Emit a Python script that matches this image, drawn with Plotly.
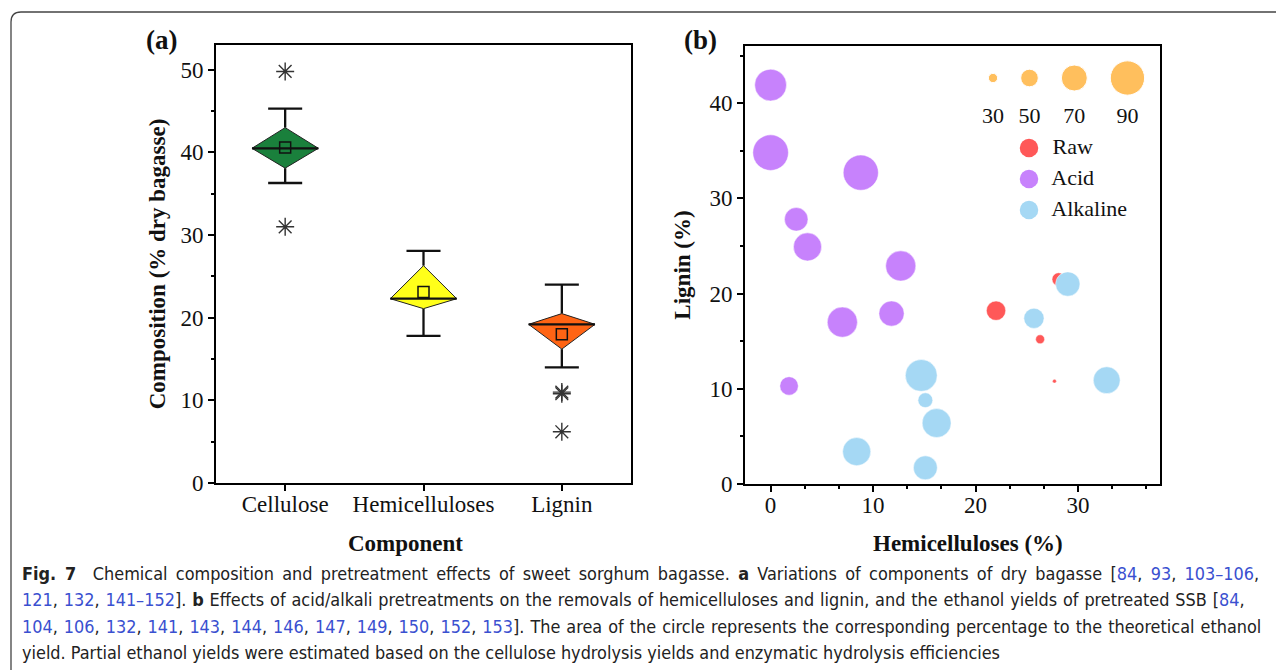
import plotly.graph_objects as go

# ---------------- Data: panel (a) ----------------
categories = ["Cellulose", "Hemicelluloses", "Lignin"]
q1 = [38.1, 21.1, 16.2]
median = [40.5, 22.3, 19.2]
q3 = [43.0, 26.3, 20.5]
whisker_low = [36.3, 17.8, 14.0]
whisker_high = [45.3, 28.1, 24.0]
mean = [40.6, 23.1, 18.0]
outliers = [[49.8, 31.0], [], [10.8, 11.0, 6.2]]
box_colors = ["#1A803C", "#FFFF1A", "#FF6414"]

# ---------------- Data: panel (b) ----------------
raw_hemi = [28.1, 22.0, 26.3, 27.7]
raw_lignin = [21.5, 18.2, 15.2, 10.8]
raw_yield = [39, 54, 29, 17]

acid_hemi = [0.0, 0.0, 8.8, 2.5, 3.6, 12.7, 7.0, 11.8, 1.8]
acid_lignin = [41.9, 34.8, 32.7, 27.8, 24.9, 22.9, 17.0, 17.9, 10.3]
acid_yield = [84, 93, 92, 64, 75, 80, 80, 68, 52]

alk_hemi = [29.0, 25.7, 32.8, 14.7, 15.1, 16.2, 8.4, 15.1]
alk_lignin = [21.0, 17.4, 10.9, 11.4, 8.8, 6.4, 3.4, 1.7]
alk_yield = [66, 56, 72, 84, 43, 77, 75, 65]

size_legend_values = [30, 50, 70, 90]
group_names = ["Raw", "Acid", "Alkaline"]
group_colors = ["#FF5858", "#C782FC", "#A5D8F4"]
size_legend_color = "#FFA51A"

# page offset: the browser body has an 8px margin
OFF = 8
WIN_W, WIN_H = 1284, 670
W, H = WIN_W - OFF, WIN_H - OFF
FONT = "Liberation Serif"


def px_x(px):
    return (px - OFF) / W


def px_y(py):
    return 1 - (py - OFF) / H


def diam(v):
    # marker diameter (px) linear in ethanol yield (%)
    return 0.417 * v - 3.2


fig = go.Figure()

# ---- panel (a): diamond box chart ----
half_w = 0.24
cap_w = 0.123
wx, wy = [], []
for i in range(len(categories)):
    wx += [i, i, None, i - cap_w, i + cap_w, None, i, i, None, i - cap_w, i + cap_w, None]
    wy += [q3[i], whisker_high[i], None, whisker_high[i], whisker_high[i], None,
           q1[i], whisker_low[i], None, whisker_low[i], whisker_low[i], None]
fig.add_trace(go.Scatter(x=wx, y=wy, mode="lines", line=dict(color="#111", width=2.3),
                         xaxis="x", yaxis="y", showlegend=False, hoverinfo="skip"))
for i, c in enumerate(categories):
    fig.add_trace(go.Scatter(
        x=[i - half_w, i, i + half_w, i, i - half_w],
        y=[median[i], q3[i], median[i], q1[i], median[i]],
        mode="lines", fill="toself", fillcolor=box_colors[i],
        line=dict(color="#222", width=1), name=c,
        xaxis="x", yaxis="y", showlegend=False))
mx, my = [], []
for i in range(len(categories)):
    mx += [i - half_w, i + half_w, None]
    my += [median[i], median[i], None]
fig.add_trace(go.Scatter(x=mx, y=my, mode="lines", line=dict(color="#111", width=2.2),
                         xaxis="x", yaxis="y", showlegend=False, hoverinfo="skip"))
fig.add_trace(go.Scatter(x=list(range(len(categories))), y=mean, mode="markers",
                         marker=dict(symbol="square-open", size=11, color="#111",
                                     line=dict(width=1.5)),
                         xaxis="x", yaxis="y", showlegend=False, name="Mean"))
ox, oy = [], []
for i, vals in enumerate(outliers):
    for v in vals:
        ox.append(i)
        oy.append(v)
fig.add_trace(go.Scatter(x=ox, y=oy, mode="markers",
                         marker=dict(symbol="asterisk-open", size=15, color="#333",
                                     line=dict(width=1.4, color="#333")),
                         xaxis="x", yaxis="y", showlegend=False, name="Outliers"))

# ---- panel (b): bubble chart ----
for name, xs, ys, vs, col in [("Raw", raw_hemi, raw_lignin, raw_yield, group_colors[0]),
                              ("Acid", acid_hemi, acid_lignin, acid_yield, group_colors[1]),
                              ("Alkaline", alk_hemi, alk_lignin, alk_yield, group_colors[2])]:
    fig.add_trace(go.Scatter(
        x=xs, y=ys, mode="markers", name=name,
        marker=dict(size=[diam(v) for v in vs], color=col, opacity=1,
                    line=dict(width=0.8, color="rgba(255,255,255,0.6)")),
        customdata=vs, hovertemplate="Hemi %{x}%<br>Lignin %{y}%<br>Yield %{customdata}%",
        xaxis="x2", yaxis="y2", showlegend=False))

# ---- manual legends (hidden axis in screen pixels) ----
gap = 23
sx = [993]
for k in range(1, len(size_legend_values)):
    sx.append(sx[-1] + (diam(size_legend_values[k - 1]) + diam(size_legend_values[k])) / 2 + gap)
fig.add_trace(go.Scatter(
    x=sx, y=[78] * len(sx), mode="markers",
    marker=dict(size=[diam(v) for v in size_legend_values], color=size_legend_color),
    xaxis="x3", yaxis="y3", showlegend=False, hoverinfo="skip"))
fig.add_trace(go.Scatter(
    x=sx, y=[117] * len(sx), mode="text", text=[str(v) for v in size_legend_values],
    textfont=dict(family=FONT, size=22, color="#111"),
    xaxis="x3", yaxis="y3", showlegend=False, hoverinfo="skip"))
row_h = 31
for k, (g, col) in enumerate(zip(group_names, group_colors)):
    fig.add_trace(go.Scatter(
        x=[1029], y=[148 + k * row_h], mode="markers+text", text=["  " + g],
        textposition="middle right",
        marker=dict(size=18.5, color=col),
        textfont=dict(family=FONT, size=22, color="#111"),
        xaxis="x3", yaxis="y3", showlegend=False, hoverinfo="skip"))

axis_common = dict(showline=True, linewidth=2, linecolor="black", mirror=True,
                   ticks="outside", ticklen=6, tickwidth=2, tickcolor="black",
                   showgrid=False, zeroline=False, automargin=False,
                   tickfont=dict(family=FONT, size=23, color="#111"))
title_font = dict(family=FONT, size=23, color="#111")
minor_common = dict(ticklen=3, tickwidth=2, tickcolor="black", ticks="outside")

fig.update_layout(
    width=W, height=H, margin=dict(l=0, r=0, t=0, b=0),
    paper_bgcolor="white", plot_bgcolor="rgba(0,0,0,0)",
    xaxis=dict(domain=[px_x(216), px_x(631)], range=[-0.5, 2.5],
               tickvals=[0, 1, 2], ticktext=categories, anchor="y",
               ticklabelstandoff=-7, **axis_common),
    yaxis=dict(domain=[px_y(483), px_y(45)], range=[0, 53], dtick=10, anchor="x",
               minor=dict(dtick=5, **minor_common),
               title=dict(text="<b>Composition (% dry bagasse)</b>", font=title_font, standoff=8),
               **axis_common),
    xaxis2=dict(domain=[px_x(745), px_x(1160)], range=[-2.5, 38], dtick=10, anchor="y2",
                minor=dict(dtick=10 / 3, **minor_common),
                ticklabelstandoff=-7, **axis_common),
    yaxis2=dict(domain=[px_y(484), px_y(46)], range=[0, 46], dtick=10, anchor="x2",
                minor=dict(dtick=5, **minor_common),
                title=dict(text="<b>Lignin (%)</b>", font=title_font, standoff=12),
                **axis_common),
    xaxis3=dict(domain=[0, 1], range=[OFF, WIN_W], visible=False, fixedrange=True, anchor="y3"),
    yaxis3=dict(domain=[0, 1], range=[WIN_H, OFF], visible=False, fixedrange=True, anchor="x3"),
)

# x-axis titles (placed as in the original, slightly off-centre)
for txt, xp in [("Component", 405), ("Hemicelluloses (%)", 968)]:
    fig.add_annotation(text="<b>%s</b>" % txt, x=px_x(xp), y=px_y(543), xref="paper", yref="paper",
                       xanchor="center", yanchor="middle", showarrow=False, font=title_font)

# panel labels
for lab, xp in [("(a)", 161), ("(b)", 700)]:
    fig.add_annotation(text="<b>%s</b>" % lab, x=px_x(xp), y=px_y(40), xref="paper", yref="paper",
                       xanchor="center", yanchor="middle",
                       showarrow=False, font=dict(family=FONT, size=27, color="#111"))

# frame
r = 10
fig.add_shape(type="path", xref="paper", yref="paper",
              path="M %f,%f L %f,%f Q %f,%f %f,%f L %f,%f" % (
                  px_x(11), px_y(WIN_H + 5), px_x(11), px_y(12 + r), px_x(11), px_y(12),
                  px_x(11 + r), px_y(12), px_x(WIN_W + 5), px_y(12)),
              line=dict(color="#444", width=1.3))

# caption (justified lines emulated with word spacing)
L = "#3a50d0"


def lk(t):
    return '<span style="color:%s">%s</span>' % (L, t)


cap_lines = [
    "<b>Fig. 7</b>\u00a0\u00a0Chemical composition and pretreatment effects of sweet sorghum bagasse. <b>a</b> Variations of components of dry bagasse ["
    + lk("84") + ", " + lk("93") + ", " + lk("103–106") + ",",
    lk("121") + ", " + lk("132") + ", " + lk("141–152")
    + "]. <b>b</b> Effects of acid/alkali pretreatments on the removals of hemicelluloses and lignin, and the ethanol yields of pretreated SSB [" + lk("84") + ",",
    ", ".join(lk(s) for s in ["104", "106", "132", "141", "143", "144", "146", "147", "149", "150", "152", "153"])
    + "]. The area of the circle represents the corresponding percentage to the theoretical ethanol",
    "yield. Partial ethanol yields were estimated based on the cellulose hydrolysis yields and enzymatic hydrolysis efficiencies",
]
word_spacing = [3.2, 0.75, 0.9, 0.0]
for k, t in enumerate(cap_lines):
    fig.add_annotation(text='<span style="word-spacing:%.2fpx">%s</span>' % (word_spacing[k], t),
                       x=px_x(20), y=px_y(573 + k * 26.5), xref="paper", yref="paper",
                       xanchor="left", yanchor="middle", showarrow=False, align="left",
                       font=dict(family="DejaVu Sans Condensed, Roboto", size=17.9, color="#222"))

fig.write_html("out.html")
